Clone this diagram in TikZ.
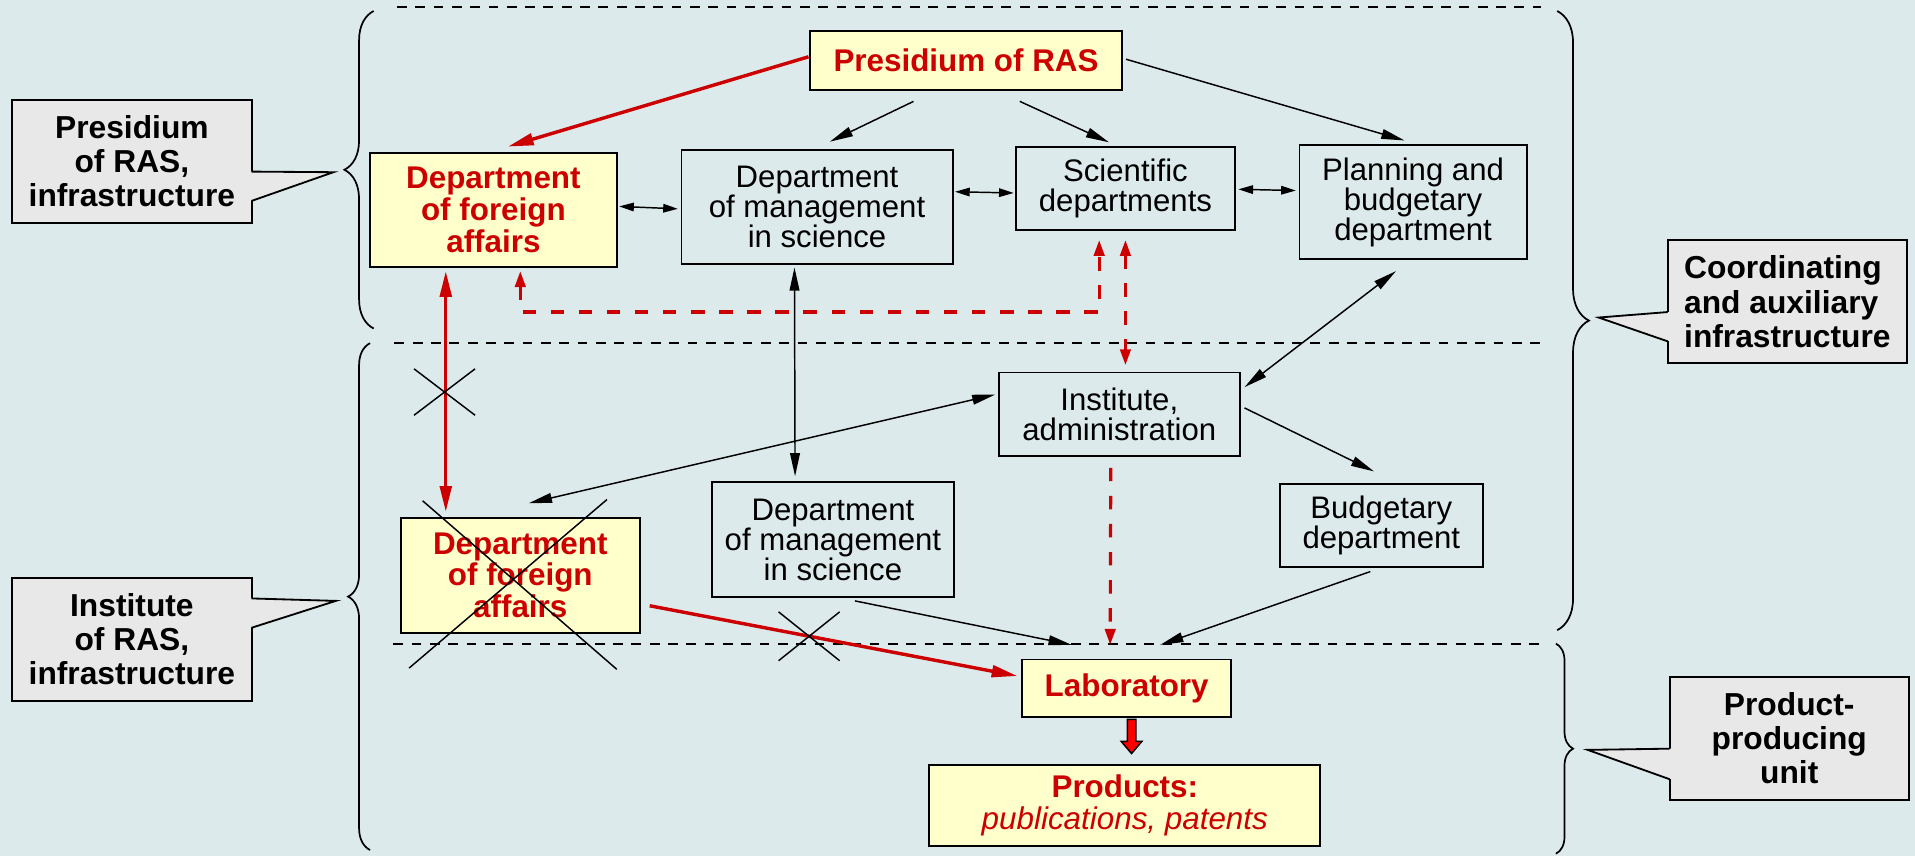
\documentclass[tikz,border=0pt]{standalone}
\usepackage{fontspec}
\setmainfont{Liberation Sans}
\usetikzlibrary{arrows.meta,calc,decorations.pathreplacing}
\definecolor{backdrop}{RGB}{221,234,235}
\definecolor{paleyellow}{RGB}{255,255,204}
\definecolor{calloutgray}{RGB}{232,232,232}
\definecolor{rasred}{RGB}{204,0,0}
\tikzset{
  >={Triangle[length=19pt,width=8pt]},
  every node/.style={outer sep=0pt,inner sep=0pt}
}
\tikzset{field/.style={
    draw,
    line width=1.6pt,
    minimum width=#1,
    align=center,
    font=\fontsize{25.5}{24.6}\selectfont
  },
  field/.default=200pt}
\tikzset{keyfield/.style={
    field=#1,
    fill=paleyellow,
    text=rasred,
    font=\fontsize{25.7}{26}\selectfont\bfseries
  },
  keyfield/.default=200pt}
\tikzset{sidenote/.style={
    draw,
    line width=1.6pt,
    fill=calloutgray,
    minimum width=196pt,
    minimum height=101pt,
    align=#1,
    font=\fontsize{26}{28}\selectfont\bfseries
  },
  sidenote/.default=center}
\tikzset{link/.style={line width=1.2pt}}
\tikzset{shortlink/.style={line width=1.2pt,>={Triangle[length=12pt,width=7pt]}}}
\tikzset{redlink/.style={line width=2.8pt,draw=rasred,>={Triangle[length=21pt,width=9.5pt]}}}
\tikzset{reddash/.style={line width=2.6pt,draw=rasred,dash pattern=on 11pt off 12pt,>={Triangle[length=13pt,width=8.5pt]}}}
\tikzset{divider/.style={line width=1.7pt,dash pattern=on 8pt off 7pt}}
\tikzset{bracket/.style={line width=1.4pt,decorate,decoration={brace,amplitude=#1}}}

\begin{document}
\begin{tikzpicture}[x=1pt,y=-1pt]
  \fill[backdrop] (0,0) rectangle (1568,701);

  % levels
  \draw[divider] (325,6) -- (1262,6);
  \draw[divider] (323,281) -- (1262,281);
  \draw[divider] (322,527) -- (1262,527);

  \draw[bracket=24pt] (306,269) -- (306,9);
  \draw[bracket=18pt] (303,696) -- (303,281);
  \draw[bracket=26pt] (1275,9) -- (1275,516);
  \draw[bracket=14pt] (1274,527) -- (1274,699);

  % side notes
  \node (cal1) [sidenote] at (108,132) {Presidium\\of RAS,\\infrastructure};
  \node (cal2) [sidenote] at (108,523.5) {Institute\\of RAS,\\infrastructure};
  \node (cal3) [sidenote=left] at (1463.5,247) {Coordinating\\and auxiliary\\infrastructure};
  \node (cal4) [sidenote] at (1465,604.5) {Product-\\producing\\unit};

  \coordinate (tip1) at (273,141);
  \coordinate (tip2) at (275,492);
  \coordinate (tip3) at (1309,260);
  \coordinate (tip4) at (1300,614);

  \fill[calloutgray] ($(cal1.north east)+(-1.5,59)$) -- (tip1) -- ($(cal1.north east)+(-1.5,83)$) -- cycle;
  \draw[line width=1.5pt] ($(cal1.north east)+(0,59)$) -- (tip1) -- ($(cal1.north east)+(0,83)$);
  \fill[calloutgray] ($(cal2.north east)+(-1.5,17)$) -- (tip2) -- ($(cal2.north east)+(-1.5,41)$) -- cycle;
  \draw[line width=1.5pt] ($(cal2.north east)+(0,17)$) -- (tip2) -- ($(cal2.north east)+(0,41)$);
  \fill[calloutgray] ($(cal3.north west)+(1.5,59)$) -- (tip3) -- ($(cal3.north west)+(1.5,83)$) -- cycle;
  \draw[line width=1.5pt] ($(cal3.north west)+(0,59)$) -- (tip3) -- ($(cal3.north west)+(0,83)$);
  \fill[calloutgray] ($(cal4.north west)+(1.5,59)$) -- (tip4) -- ($(cal4.north west)+(1.5,84)$) -- cycle;
  \draw[line width=1.5pt] ($(cal4.north west)+(0,59)$) -- (tip4) -- ($(cal4.north west)+(0,84)$);

  % units
  \node (pres) [keyfield=256pt,minimum height=49pt] at (791,49.5) {Presidium of RAS};
  \node (dfa1) [keyfield=202pt,minimum height=94pt] at (404,172) {Department\\of foreign\\affairs};
  \node (dms1) [field=222pt,minimum height=93pt]    at (669,169.5) {Department\\of management\\in science};
  \node (sci)  [field=179pt,minimum height=68pt]    at (921.5,154.5) {Scientific\\departments};
  \node (plan) [field=186pt,minimum height=93pt]    at (1157,165.5) {Planning and\\budgetary\\department};
  \node (inst) [field=197pt,minimum height=68pt]    at (916.5,339) {Institute,\\administration};
  \node (dfa2) [keyfield=196pt,minimum height=94pt] at (426,471) {Department\\of foreign\\affairs};
  \node (dms2) [field=198pt,minimum height=94pt]    at (682,442) {Department\\of management\\in science};
  \node (budg) [field=166pt,minimum height=68pt]    at (1131,430) {Budgetary\\department};
  \node (lab)  [keyfield=171pt,minimum height=47pt] at (922.5,563.5) {Laboratory};
  \node (prod) [keyfield=320pt,minimum height=67pt] at (921,659.5) {Products:\\{\mdseries\itshape publications, patents}};

  % links of the presidium
  \draw[redlink,->] ($(pres.west)+(-1,-3)$) -- ($(dfa1.north)+(12,-5)$);
  \draw[link,->] ($(pres.south)+(-43,9)$) -- ($(dms1.north)+(10.5,-7)$);
  \draw[link,->] ($(pres.south)+(44,9)$) -- ($(sci.north)+(-13.5,-4)$);
  \draw[link,->] ($(pres.east)+(3,-1)$) -- ($(plan.north)+(-7,-4)$);

  \draw[shortlink,<->] ($(dfa1.east)+(2,-3)$) -- ($(dms1.west)+(-3,1.5)$);
  \draw[shortlink,<->] ($(dms1.east)+(2,-12.5)$) -- ($(sci.west)+(-2,3.5)$);
  \draw[shortlink,<->] ($(sci.east)+(3,0.5)$) -- ($(plan.west)+(-3,-9.5)$);

  \draw[link,<->] ($(dms1.south)+(-18.5,3)$) -- ($(dms2.north)+(-31,-5)$);
  \draw[redlink,<->] ($(dfa1.south)+(-39,3)$) -- ($(dfa2.north)+(-61,-5)$);
  \draw[reddash,<->] ($(dfa1.south)+(22,3)$) |- ($(sci.south)+(-21.5,67)$) -- ($(sci.south)+(-21.5,8)$);
  \draw[reddash,<->] ($(sci.south)+(0,8)$) -- ($(sci.south|-inst.north)+(0,-6)$);
  \draw[link,<->] ($(plan.south)+(-14,10)$) -- ($(inst.east)+(4,-22)$);

  % links of the institute
  \draw[link,<->] ($(inst.west)+(-3,-16)$) -- ($(dfa2.north)+(7,-12)$);
  \draw[link,->] ($(inst.east)+(4,-5)$) -- ($(budg.north)+(-6,-10)$);
  \draw[reddash,->] ($(inst.south)+(-7,10)$) -- ($(lab.north)+(-13.5,-12)$);
  \draw[link,->] ($(dms2.south)+(18,3)$) -- ($(lab.north)+(-45,-12)$);
  \draw[link,->] ($(budg.south)+(-9,4)$) -- ($(lab.north)+(27.5,-12)$);
  \draw[redlink,->] ($(dfa2.east)+(8,25)$) -- ($(lab.west)+(-4,-10)$);

  % cut links
  \coordinate (cut1) at (364,321);
  \coordinate (cut2) at (662.5,521);
  \draw[link] (cut1) +(-25,-19) -- +(25,19) (cut1) +(-25,19) -- +(25,-19);
  \draw[link] (cut2) +(-25,-20) -- +(25,20) (cut2) +(-25,20) -- +(25,-20);
  \draw[link] ($(dfa2)+(-80,-61)$) -- ($(dfa2)+(79,77)$) ($(dfa2)+(-91,76)$) -- ($(dfa2)+(71,-62)$);

  % output
  \coordinate (labout) at ($(lab.south)+(4,2)$);
  \draw[line width=1.2pt,fill=red] (labout) ++(-3.5,0) -- ++(7,0) -- ++(0,18) -- ++(5,0)
    -- ++(-8.5,10) -- ++(-8.5,-10) -- ++(5,0) -- cycle;
\end{tikzpicture}
\end{document}
